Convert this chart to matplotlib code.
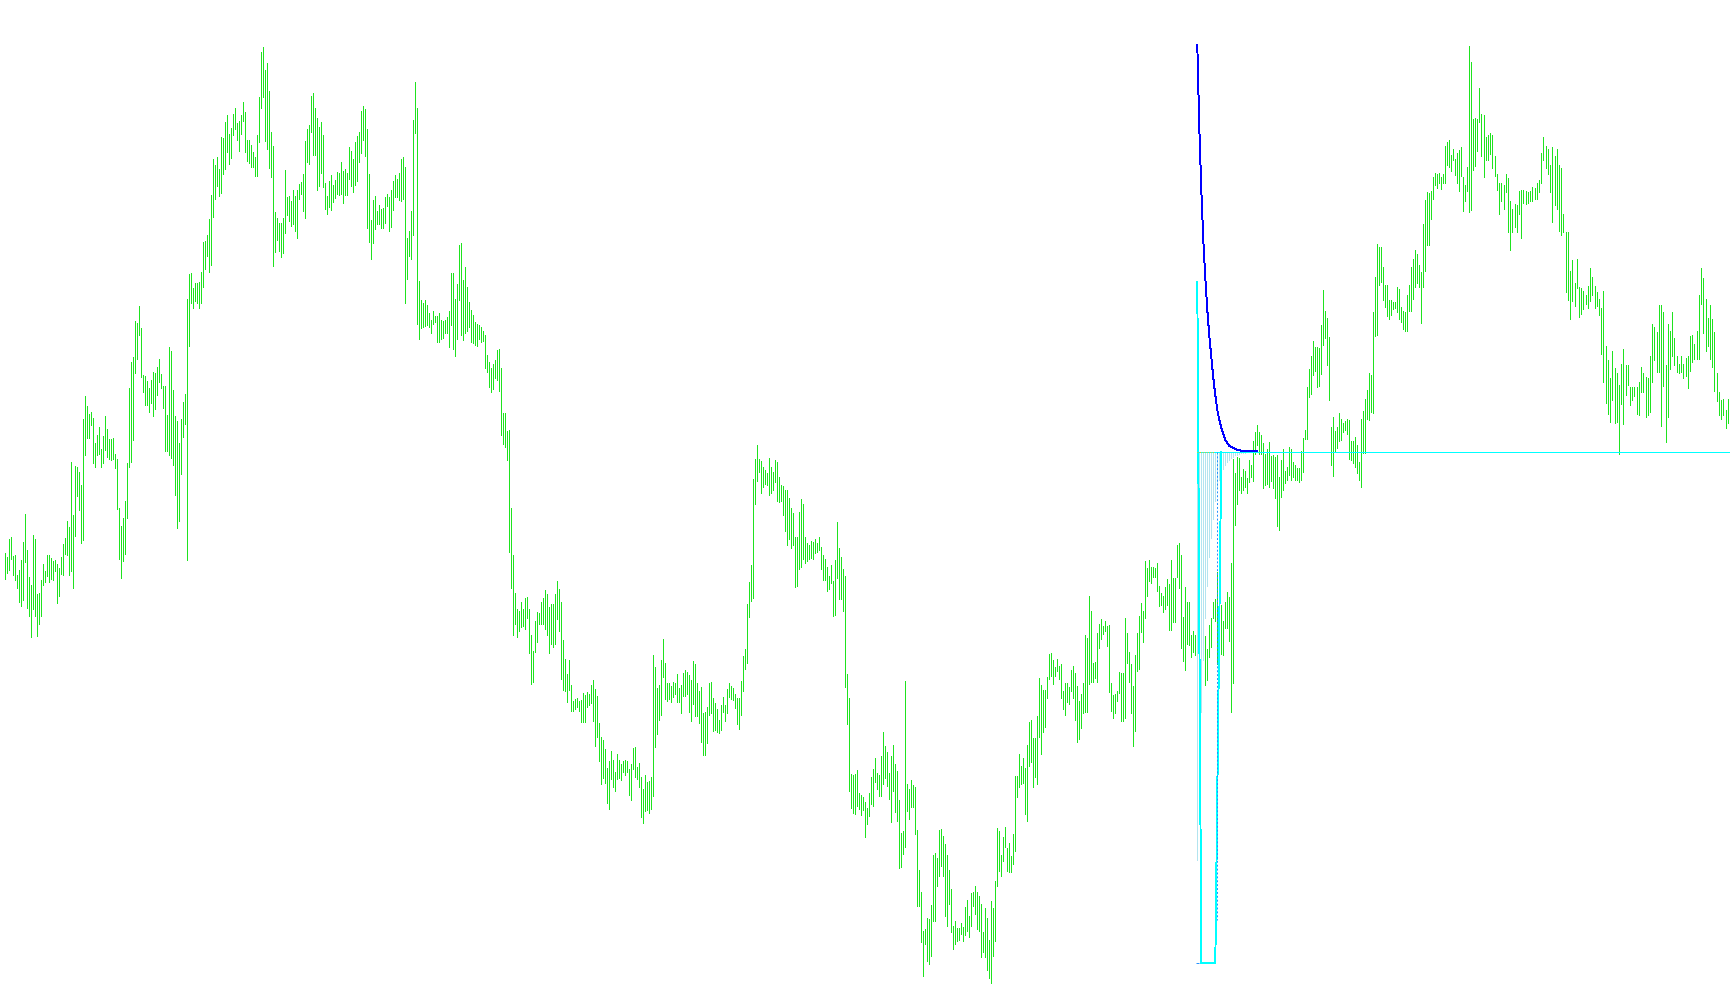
import numpy as np
import matplotlib
matplotlib.use('Agg')
import matplotlib.pyplot as plt

# price bars as [top, bottom]; the scale runs downward (0 = top of the window)
bars_a = [[553, 579], [557, 573], [539, 570], [537, 559], [556, 575], [555, 580], [575, 588], [570, 602],
          [560, 606], [542, 600], [514, 562], [550, 608], [577, 616], [585, 637], [535, 609], [539, 616],
          [594, 636], [593, 624], [580, 616], [564, 585], [571, 582], [555, 576], [555, 582], [558, 579],
          [561, 580], [560, 571], [564, 603], [568, 596], [557, 574], [544, 575], [538, 554], [521, 555],
          [527, 575], [462, 571], [515, 588], [466, 536], [467, 496], [472, 510], [485, 543], [419, 540],
          [396, 455], [406, 438], [414, 438], [412, 425], [418, 463], [443, 467], [435, 455], [427, 454],
          [449, 467], [436, 463], [416, 450], [429, 457], [439, 459], [439, 460], [438, 459], [454, 468],
          [459, 509], [508, 559], [526, 578], [518, 561], [501, 554], [463, 518], [388, 467], [362, 462],
          [357, 440], [321, 373], [323, 359], [306, 335], [328, 377], [375, 392], [376, 405], [381, 405],
          [388, 412], [380, 403], [372, 416], [373, 409], [367, 395], [359, 382], [374, 388], [386, 408],
          [386, 451], [415, 451], [347, 455], [351, 458], [390, 465], [416, 495], [421, 528], [443, 521],
          [419, 474], [402, 437], [394, 424], [299, 560], [274, 346], [273, 303], [288, 308], [283, 301],
          [283, 303], [282, 308], [272, 303], [242, 287], [241, 269], [235, 256], [219, 272]]

bars_b = [[195, 265], [159, 217], [165, 199], [157, 186], [169, 196], [137, 193], [138, 174], [122, 169],
          [115, 152], [134, 164], [128, 158], [114, 135], [108, 129], [123, 140], [121, 151], [115, 134],
          [102, 121], [112, 152], [140, 161], [140, 163], [145, 167], [152, 167], [157, 176], [135, 176],
          [97, 142], [52, 108], [47, 97], [70, 141], [63, 149], [91, 168], [132, 177], [146, 266],
          [212, 252], [218, 240], [223, 251], [223, 257], [218, 253], [170, 233], [197, 215], [196, 221],
          [201, 226], [190, 224], [196, 231], [190, 238], [184, 199], [182, 194], [174, 211], [141, 218],
          [129, 162], [125, 164], [96, 132], [93, 155], [108, 155], [118, 190], [127, 186], [122, 173],
          [135, 187], [183, 209], [196, 214], [181, 207], [175, 210], [185, 202], [180, 198], [172, 194],
          [173, 195], [162, 194], [171, 203], [169, 195], [173, 195], [147, 179], [151, 186], [159, 192],
          [142, 185], [136, 181], [132, 162], [111, 153], [106, 140], [109, 156], [129, 228], [174, 242],
          [220, 259], [200, 243], [196, 229], [211, 224], [205, 224], [209, 228], [208, 228], [197, 223],
          [194, 206], [197, 231], [190, 227], [181, 210], [175, 197], [179, 197], [173, 200], [159, 201],
          [157, 199], [167, 303], [238, 279], [231, 256], [211, 259], [120, 235], [82, 133], [108, 324],
          [281, 339], [300, 328], [303, 327], [300, 326], [305, 325], [313, 327]]

bars_c = [[320, 333], [311, 324], [316, 322], [316, 342], [313, 342], [320, 339], [321, 338], [320, 333],
          [317, 333], [311, 347], [273, 325], [273, 349], [299, 356], [284, 339], [245, 300], [243, 335],
          [280, 340], [267, 333], [287, 331], [302, 327], [310, 342], [315, 343], [322, 345], [324, 346],
          [325, 339], [327, 342], [331, 341], [335, 368], [355, 372], [362, 387], [368, 392], [364, 389],
          [360, 378], [350, 380], [349, 391], [368, 435], [413, 444], [413, 447], [431, 460], [430, 552],
          [508, 588], [555, 635], [593, 624], [609, 637], [611, 631], [602, 627], [609, 626], [598, 629],
          [597, 618], [609, 653], [635, 684], [651, 682], [621, 652], [612, 642], [613, 624], [602, 624],
          [598, 624], [590, 629], [594, 635], [607, 653], [604, 644], [604, 647], [594, 644], [581, 619],
          [589, 631], [602, 679], [640, 690], [659, 691], [674, 702], [660, 690], [685, 711], [701, 711],
          [699, 709], [698, 707], [701, 711], [700, 722], [693, 722], [695, 722], [692, 707], [694, 705],
          [685, 703], [680, 721], [689, 746], [696, 737], [723, 761], [737, 784], [740, 778], [749, 783],
          [768, 803], [761, 809], [751, 779], [760, 787], [772, 791], [754, 779], [760, 778], [764, 780],
          [761, 772], [760, 775], [761, 772], [769, 795], [764, 800], [748, 769], [747, 777], [767, 779],
          [763, 787]]

bars_d = [[777, 817], [789, 823], [775, 811], [782, 810], [781, 813], [777, 809], [655, 796], [667, 747],
          [688, 734], [685, 720], [660, 715], [639, 677], [663, 699], [683, 701], [683, 699], [686, 702],
          [682, 697], [683, 694], [674, 702], [688, 702], [685, 713], [673, 696], [670, 696], [672, 694],
          [675, 712], [680, 721], [661, 704], [664, 716], [683, 716], [691, 723], [687, 742], [713, 755],
          [712, 755], [707, 743], [683, 715], [682, 713], [698, 731], [703, 730], [709, 732], [720, 733],
          [705, 730], [697, 712], [705, 721], [689, 713], [683, 697], [686, 699], [688, 700], [694, 708],
          [698, 724], [698, 729], [681, 715], [656, 691], [649, 669], [604, 663], [582, 617], [565, 601],
          [479, 598], [459, 504], [445, 481], [459, 472], [461, 493], [467, 487], [470, 484], [473, 485],
          [458, 495], [467, 493], [472, 490], [460, 482], [462, 501], [477, 502], [485, 501], [486, 515],
          [490, 531], [490, 545], [498, 539], [508, 548], [513, 545], [537, 587], [537, 586], [512, 569],
          [499, 567], [504, 559], [537, 563], [543, 561], [545, 559], [541, 558], [542, 559], [539, 553],
          [543, 552], [537, 550], [547, 569], [555, 580], [559, 580], [567, 591], [576, 589], [565, 583],
          [581, 616], [560, 615], [522, 578], [548, 599], [557, 599], [569, 611], [576, 687], [674, 724],
          [698, 791]]

bars_e = [[774, 808], [775, 813], [774, 814], [770, 806], [793, 809], [795, 815], [797, 810], [802, 837],
          [808, 824], [793, 816], [777, 804], [769, 806], [758, 782], [773, 789], [775, 796], [756, 796],
          [732, 784], [746, 778], [752, 786], [773, 799], [756, 822], [745, 791], [764, 812], [771, 821],
          [800, 868], [833, 867], [831, 854], [681, 847], [784, 811], [789, 819], [780, 807], [785, 807],
          [787, 834], [830, 906], [870, 906], [892, 942], [931, 976], [929, 944], [918, 961], [919, 964],
          [905, 956], [855, 921], [853, 921], [858, 886], [830, 876], [829, 866], [836, 876], [844, 916],
          [855, 926], [870, 904], [889, 932], [926, 949], [921, 944], [928, 941], [928, 940], [923, 934],
          [927, 941], [907, 935], [900, 931], [916, 937], [893, 926], [892, 906], [886, 914], [892, 929],
          [896, 931], [904, 957], [932, 952], [908, 957], [918, 970], [940, 978], [901, 983], [908, 956],
          [881, 941], [828, 886], [831, 871], [855, 876], [837, 861], [827, 847], [848, 871], [843, 872],
          [856, 872], [834, 864], [776, 851], [776, 797], [754, 787], [766, 784], [758, 783], [768, 814],
          [745, 821], [722, 766], [720, 762], [738, 787], [738, 777], [716, 784], [678, 737], [685, 754],
          [690, 732], [690, 727], [677, 698], [654, 679], [653, 676], [660, 684], [667, 676], [659, 671],
          [666, 679]]

bars_f = [[664, 698], [691, 709], [683, 715], [683, 702], [687, 704], [670, 691], [666, 698], [673, 720],
          [686, 742], [701, 739], [694, 728], [683, 713], [635, 712], [638, 712], [596, 684], [611, 682],
          [663, 682], [662, 678], [633, 682], [624, 648], [619, 639], [626, 634], [621, 631], [626, 646],
          [625, 692], [683, 711], [695, 718], [694, 713], [691, 701], [672, 693], [673, 721], [673, 721],
          [618, 718], [633, 663], [652, 682], [664, 713], [686, 746], [655, 731], [633, 671], [616, 669],
          [603, 632], [611, 642], [561, 618], [568, 596], [560, 581], [567, 583], [567, 577], [568, 577],
          [563, 591], [586, 606], [593, 605], [596, 612], [587, 609], [579, 605], [584, 630], [560, 630],
          [578, 622], [578, 622], [545, 577], [543, 588], [555, 648], [617, 661], [587, 670], [602, 644],
          [602, 645], [635, 657], [631, 652], [635, 655]]

# bars under the indicator block are covered, none of them shows
hidden = [[np.nan, np.nan]] * 4

bars_g = [[636, 685], [649, 680], [625, 657], [618, 647], [602, 618], [599, 621], [572, 664], [572, 634],
          [605, 654], [621, 655], [602, 628], [592, 628], [597, 641], [563, 712], [459, 683], [473, 525],
          [457, 504], [458, 490], [477, 493], [469, 490], [471, 487], [478, 493], [460, 482], [465, 477],
          [441, 481], [432, 454], [425, 445], [432, 454], [435, 454], [443, 488], [454, 485], [449, 484],
          [442, 487], [456, 481], [455, 488], [457, 498], [455, 526], [477, 530], [460, 497], [449, 490],
          [471, 483], [467, 480], [447, 475], [449, 480], [462, 477], [465, 480], [468, 480], [468, 482],
          [451, 480], [438, 472], [430, 439]]

bars_h = [[387, 439], [369, 397], [356, 394], [341, 375], [347, 371], [347, 387], [348, 386], [325, 374],
          [290, 345], [311, 338], [318, 365], [337, 400], [427, 465], [417, 476], [431, 451], [427, 448],
          [413, 441], [419, 440], [423, 432], [421, 430], [419, 434], [420, 459], [441, 460], [441, 463],
          [437, 467], [445, 473], [462, 480], [419, 487], [411, 453], [399, 453], [390, 419], [373, 420],
          [375, 412], [312, 413], [277, 336], [244, 335], [247, 285], [247, 282], [267, 300], [285, 307],
          [285, 316], [300, 319], [300, 315], [302, 309], [302, 308], [287, 312], [289, 319], [307, 322],
          [311, 329], [312, 331], [295, 331], [285, 311], [267, 311], [259, 299], [250, 287], [254, 283],
          [265, 287], [272, 323], [224, 287], [200, 271], [192, 245], [193, 245], [191, 219], [177, 199],
          [173, 185], [174, 188], [173, 183], [177, 189], [174, 183], [146, 183], [142, 165], [140, 167],
          [155, 171], [149, 160], [159, 175], [153, 183], [150, 191], [147, 176], [177, 211], [185, 201],
          [167, 191], [46, 212], [62, 210], [119, 170], [118, 166], [119, 151], [88, 122]]

# last stretch was read on a slightly wider grid than one bar
bars_i = [[114, 156], [115, 177], [137, 160], [135, 160], [133, 154], [135, 168], [156, 176], [174, 190],
          [183, 214], [183, 201], [185, 209], [174, 192], [178, 232], [201, 250], [209, 232], [204, 227],
          [205, 232], [191, 214], [190, 238], [190, 203], [191, 204], [192, 203], [191, 201], [187, 201],
          [188, 199], [183, 199], [180, 192], [153, 183], [137, 160], [146, 168], [149, 174], [165, 192],
          [147, 222], [156, 205], [149, 209], [165, 231], [168, 235], [214, 232], [232, 292], [232, 300],
          [271, 319], [260, 301], [283, 306], [259, 288], [287, 317], [288, 314], [291, 309], [295, 304],
          [286, 308], [268, 301], [277, 295], [286, 308], [292, 306], [299, 315], [308, 354], [291, 382],
          [346, 403], [360, 414], [378, 422], [351, 400], [368, 423], [373, 422], [385, 454], [364, 404],
          [349, 424], [365, 395], [365, 385], [387, 405], [387, 400], [387, 396], [387, 414], [382, 415],
          [367, 392], [373, 392], [377, 417], [378, 415], [356, 412], [324, 382], [327, 360], [332, 372],
          [305, 372], [305, 426], [312, 386], [365, 442], [324, 417], [331, 369], [312, 356], [338, 365],
          [356, 372], [364, 373], [356, 372], [364, 378], [358, 376], [356, 388], [336, 371], [335, 362],
          [344, 359], [331, 359], [295, 359], [268, 304], [278, 333], [299, 351], [318, 346], [305, 359],
          [319, 367], [332, 391], [373, 401], [392, 415], [400, 419], [399, 415], [410, 428], [399, 423],
          [410, 429]]
grid_i = 1.11

# indicator drawn from the first covered bar onwards
level = 452
hist_depth = [860, 777, 712, 660, 618, 586, 557, 538, 519, 501, 488, 480, 473, 469, 465, 462, 460,
              458, 457, 455, 455, 454, 453, 453, 453]
envelope = [282, 622, 963, 963, 963, 963, 963, 963, 963, 963, 793, 622, 452]
decay = [45, 128, 190, 240, 278, 310, 336, 357, 378, 395, 410, 420, 428, 434, 440, 443, 446, 447, 448,
         449, 450, 450, 451, 451, 451, 451, 451, 451, 451, 451, 451]
dash_bottom = 920
floor = 963

green = '#1fe31f'
cyan = '#00ffff'
pale = '#b2e4ef'
px = 0.7  # one pixel, in points

before = bars_a + bars_b + bars_c + bars_d + bars_e + bars_f
anchor = len(before)
main = np.array(before + hidden + bars_g + bars_h, dtype=float)
tail = np.array(bars_i, dtype=float)
x_main = np.arange(len(main))
x_tail = len(main) + np.arange(len(tail)) * grid_i

fig = plt.figure(figsize=(17.3, 10.05), dpi=100)
ax = fig.add_axes([0, 0, 1, 1])
ax.axis('off')

ax.vlines(x_main, main[:, 0], main[:, 1], color=green, lw=px, antialiased=False)
ax.vlines(x_tail, tail[:, 0], tail[:, 1], color=green, lw=px, antialiased=False)

hx = anchor + np.arange(len(hist_depth))
ax.vlines(hx, level, hist_depth, color=pale, lw=px, antialiased=False)

right = 862.35
ax.hlines(level, anchor - 0.2, right, color=cyan, lw=px, antialiased=False)
ax.plot(anchor + np.arange(len(envelope)), envelope, color=cyan, lw=px, antialiased=False)
ax.plot(anchor + np.arange(10), [level] * 10, color='#ffc000', ls=':', lw=px)
ax.vlines(anchor + 9.7, level, dash_bottom, color='#1e90ff', ls=(0, (2, 2)), lw=px)
ax.hlines(floor, anchor - 0.6, anchor + 0.9, color='#1e90ff', lw=px)
ax.plot(anchor + np.arange(len(decay)), decay, color='#0000ff', lw=px, antialiased=False)

ax.set_xlim(-2.65, right)
ax.set_ylim(1005, 0)
fig.savefig('out.png', dpi=100, facecolor='white')
